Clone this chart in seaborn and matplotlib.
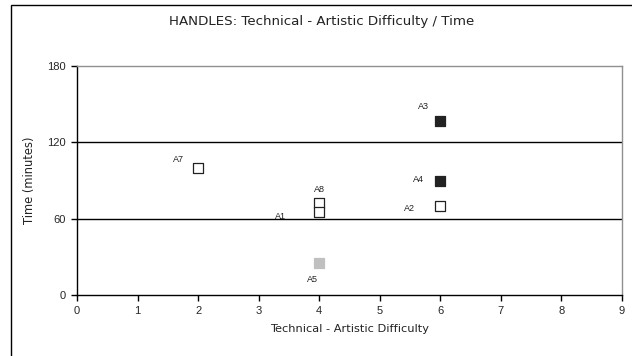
import matplotlib
matplotlib.use("Agg")
import matplotlib.pyplot as plt
import seaborn as sns
import pandas as pd
from matplotlib.patches import Rectangle

labels = ["A7", "A8", "A1", "A5", "A3", "A4", "A2"]
difficulty = [2, 4, 4, 4, 6, 6, 6]
time_min = [100, 72, 65, 25, 137, 90, 70]
kind = ["open", "open", "open", "light", "dark", "dark", "open"]

df = pd.DataFrame({"label": labels, "x": difficulty, "y": time_min, "kind": kind})

sns.set_style("white")
plt.rcParams["font.family"] = ["Liberation Sans", "DejaVu Sans"]

fig = plt.figure(figsize=(6.32, 3.56), dpi=100)
ax = fig.add_axes([77/632, 1-295/356, (622-77)/632, (295-66)/356])

face = {"open": "white", "light": "#c0c0c0", "dark": "#222222"}
edge = {"open": "#222222", "light": "#c0c0c0", "dark": "#222222"}
for k in ["open", "light", "dark"]:
    sub = df[df["kind"] == k]
    sns.scatterplot(data=sub, x="x", y="y", ax=ax, marker="s", s=60,
                    color=face[k], edgecolor=edge[k], linewidth=0.9, zorder=3, legend=False)

offsets = {"A7": (-14, 6), "A8": (0, 10), "A1": (-28, -3), "A5": (-5, -12),
           "A3": (-12, 10), "A4": (-16, 1), "A2": (-22, -2)}
for _, r in df.iterrows():
    dx, dy = offsets[r["label"]]
    ax.annotate(r["label"], (r["x"], r["y"]), xytext=(dx, dy), textcoords="offset points",
                fontsize=6.5, ha="center", va="center", color="#222222")

ax.set_xlim(0, 9)
ax.set_ylim(0, 180)
ax.set_xticks(range(0, 10))
ax.set_yticks([0, 60, 120, 180])
for yv in [60, 120]:
    ax.axhline(yv, color="black", lw=1, zorder=1)
ax.tick_params(axis="both", direction="out", length=4, width=1, color="black",
               labelsize=8, pad=4, left=True, bottom=True)
for s in ["left", "bottom"]:
    ax.spines[s].set_color("black")
    ax.spines[s].set_linewidth(1)
for s in ["top", "right"]:
    ax.spines[s].set_color("#909090")
    ax.spines[s].set_linewidth(1)
ax.set_xlabel("Technical - Artistic Difficulty", fontsize=8.2, labelpad=6,
              family=["DejaVu Sans"], color="#222222")
ax.set_ylabel("Time (minutes)", fontsize=8.3, labelpad=8,
              family=["DejaVu Sans"], color="#222222")
fig.text(322/632, 1-22/356, "HANDLES: Technical - Artistic Difficulty / Time", ha="center",
         va="center", fontsize=9.6, color="#222222", family=["DejaVu Sans"])

fig.patches.append(Rectangle((11/632, -0.05), 1.0, 1-5/356+0.05, transform=fig.transFigure,
                             fill=False, edgecolor="black", lw=1))

fig.savefig("out.png", dpi=100)
